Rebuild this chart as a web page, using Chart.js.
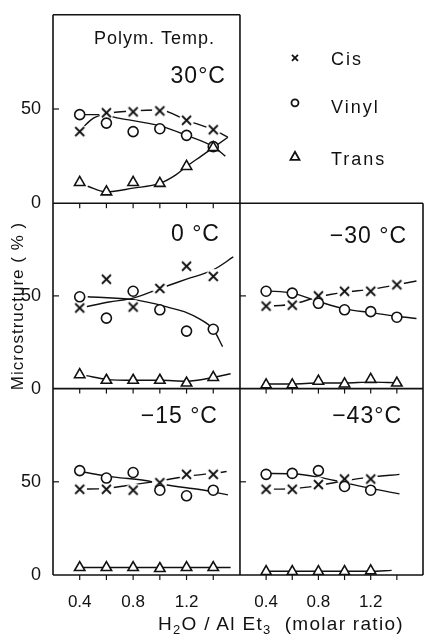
<!DOCTYPE html>
<html>
<head>
<meta charset="utf-8">
<script src="https://cdn.jsdelivr.net/npm/chart.js@4"></script>
<style>
  html, body { margin: 0; padding: 0; background: #fff; }
  #wrap { position: relative; width: 431px; height: 637px; }
  #xtitle { position: absolute; left: 158px; top: 613px; font: 19px "Liberation Sans", Arial, sans-serif; letter-spacing: 1.3px; color: #111; white-space: nowrap; }
  #xtitle sub { font-size: 13px; vertical-align: -4px; line-height: 0; }
</style>
</head>
<body>
<div id="wrap">
  <canvas id="grafica" width="431" height="637"></canvas>
  <div id="xtitle">H<sub>2</sub>O / Al Et<sub>3</sub>&nbsp;&nbsp;(molar ratio)</div>
</div>
<script>
// H2O / AlEt3 molar ratios
const ratios = [0.4, 0.6, 0.8, 1.0, 1.2, 1.4];
const ratios43 = [0.4, 0.6, 0.8, 1.0, 1.2];

// tick marks and labels
const xTicks = [0.4, 0.6, 0.8, 1.0, 1.2, 1.4];
const xTickLabels = ['0.4', '0.8', '1.2'];
const yTicks = [0, 50];

// 30 °C
const cis30 = [38, 48, 48.5, 49, 44, 39];
const vinyl30 = [47, 42.5, 38, 39.5, 36, 30];
const trans30 = [11, 6, 11, 10.5, 19.5, 29.5];
const cisFit30 = [[0.42, 40], [0.5, 45], [0.6, 47.5], [0.8, 49], [1.0, 49.5], [1.2, 44], [1.4, 39], [1.51, 35]];
const vinylFit30 = [[0.43, 47], [0.55, 47], [0.7, 45], [1.0, 41], [1.2, 36], [1.4, 30], [1.49, 25]];
const transFit30 = [[0.46, 9], [0.6, 6], [0.8, 8], [1.0, 10.5], [1.12, 15], [1.2, 19.5], [1.31, 25], [1.4, 29.5], [1.51, 35]];

// 0 °C
const cis0 = [43.5, 59, 44, 54, 66, 60.5];
const vinyl0 = [49.5, 38, 52.5, 42.5, 31, 32];
const trans0 = [7.5, 4.5, 4.5, 4.5, 3, 6];
const cisFit0 = [[0.44, 44], [0.62, 46.7], [0.8, 48.8], [1.0, 54], [1.2, 59], [1.4, 64], [1.55, 71]];
const vinylFit0 = [[0.46, 49.5], [0.8, 48], [0.95, 46], [1.07, 43.7], [1.2, 41], [1.3, 37.5], [1.4, 32], [1.47, 22.6]];
const transFit0 = [[0.45, 7], [0.6, 5], [0.8, 4.5], [1.0, 4.5], [1.2, 4], [1.4, 6], [1.53, 8]];

// -30 °C
const cisM30 = [44.5, 45, 50, 52.5, 52.5, 56];
const vinylM30 = [52.5, 51.5, 46, 42.5, 41.5, 38.5];
const transM30 = [2, 2, 4, 2.5, 5, 3];
const cisFitM30 = [[0.4, 44.5], [0.6, 45.5], [0.8, 49.5], [1.0, 52], [1.2, 53.5], [1.4, 56], [1.55, 58]];
const vinylFitM30 = [[0.4, 52.7], [0.6, 51.5], [0.8, 47], [1.0, 43], [1.2, 41], [1.4, 39], [1.55, 37.8]];
const transFitM30 = [[0.4, 2.5], [0.6, 2.5], [0.8, 3], [1.0, 3], [1.2, 3.5], [1.4, 3.2]];

// -15 °C
const cisM15 = [46, 46, 45.5, 49.5, 54, 54];
const vinylM15 = [56, 52, 55, 45.5, 42.5, 45.5];
const transM15 = [4, 4, 4, 3.5, 4, 4];
const cisFitM15 = [[0.4, 46], [0.6, 46.5], [0.8, 48.5], [1.0, 50.5], [1.2, 53], [1.4, 54.5], [1.5, 55.5]];
const vinylFitM15 = [[0.4, 55.5], [0.66, 52.5], [0.89, 50.7], [1.04, 48.4], [1.31, 45.7], [1.51, 43]];
const transFitM15 = [[0.4, 4], [0.8, 4], [1.2, 4], [1.53, 4]];

// -43 °C
const cisM43 = [46, 46, 48.5, 51.5, 51.5];
const vinylM43 = [54, 54.5, 56, 47.5, 45.5];
const transM43 = [1.8, 1.8, 1.8, 1.8, 2.2];
const cisFitM43 = [[0.4, 46], [0.6, 46.3], [0.8, 48], [1.0, 50.5], [1.2, 52.5], [1.42, 54]];
const vinylFitM43 = [[0.4, 54.5], [0.6, 54.3], [0.8, 52.5], [1.0, 49.5], [1.2, 46.5], [1.42, 43.5]];
const transFitM43 = [[0.4, 2], [0.8, 2], [1.2, 2], [1.36, 2.5]];

const panels = [
  { label: '30°C',   x: 'xL', y: 'yTop', xs: ratios,   cis: cis30,  vinyl: vinyl30,  trans: trans30,  fits: [cisFit30, vinylFit30, transFit30] },
  { label: '0 °C',   x: 'xL', y: 'yMid', xs: ratios,   cis: cis0,   vinyl: vinyl0,   trans: trans0,   fits: [cisFit0, vinylFit0, transFit0] },
  { label: '−30 °C', x: 'xR', y: 'yMid', xs: ratios,   cis: cisM30, vinyl: vinylM30, trans: transM30, fits: [cisFitM30, vinylFitM30, transFitM30] },
  { label: '−15 °C', x: 'xL', y: 'yBot', xs: ratios,   cis: cisM15, vinyl: vinylM15, trans: transM15, fits: [cisFitM15, vinylFitM15, transFitM15] },
  { label: '−43°C',  x: 'xR', y: 'yBot', xs: ratios43, cis: cisM43, vinyl: vinylM43, trans: transM43, fits: [cisFitM43, vinylFitM43, transFitM43] }
];
// right edge offset / top offset of the temperature labels
const labelPos = [[14, 62], [20, 31], [16, 33], [22, 28], [21, 28]];

const tinta = '#111';
const fuente = '"Liberation Sans", Arial, sans-serif';

// x marker with a white halo so the curve breaks around it
function cruz(size, arm, halo) {
  const c = document.createElement('canvas');
  c.width = c.height = size;
  const g = c.getContext('2d');
  const m = size / 2;
  if (halo) {
    g.fillStyle = '#fff';
    g.beginPath(); g.arc(m, m, m, 0, Math.PI * 2); g.fill();
  }
  g.strokeStyle = tinta;
  g.lineWidth = 1.8;
  g.beginPath();
  g.moveTo(m - arm, m - arm); g.lineTo(m + arm, m + arm);
  g.moveTo(m + arm, m - arm); g.lineTo(m - arm, m + arm);
  g.stroke();
  return c;
}
const cruzImg = cruz(15, 4.5, true);

const pts = (xs, ys) => xs.map((x, i) => ({ x: x, y: ys[i] }));
const pares = arr => arr.map(p => ({ x: p[0], y: p[1] }));

const marcas = [];
const curvas = [];
panels.forEach(p => {
  const base = { xAxisID: p.x, yAxisID: p.y };
  marcas.push(Object.assign({ data: pts(p.xs, p.trans), pointStyle: 'triangle', pointRadius: 6, backgroundColor: '#fff', borderColor: tinta, borderWidth: 1.6 }, base));
  marcas.push(Object.assign({ data: pts(p.xs, p.vinyl), pointStyle: 'circle', pointRadius: 5, backgroundColor: '#fff', borderColor: tinta, borderWidth: 1.6 }, base));
  marcas.push(Object.assign({ data: pts(p.xs, p.cis), pointStyle: cruzImg, pointRadius: 7 }, base));
  p.fits.forEach(f => {
    curvas.push(Object.assign({ data: pares(f), showLine: true, pointRadius: 0, borderColor: tinta, borderWidth: 1.4, cubicInterpolationMode: 'monotone', fill: false }, base));
  });
});

function ejeX(weight) {
  return {
    type: 'linear', position: 'bottom', stack: 'cols', stackWeight: weight,
    min: 0.2, max: 1.6,
    afterBuildTicks: s => { s.ticks = xTicks.map(v => ({ value: v })); },
    afterFit: s => { s.height = 62; },
    grid: { display: false }, border: { display: false },
    ticks: {
      autoSkip: false, maxRotation: 0, padding: 9, color: tinta,
      font: { family: fuente, size: 17 },
      callback: v => xTickLabels.includes(v.toFixed(1)) ? v.toFixed(1) : ''
    }
  };
}
function ejeY(weight, order) {
  return {
    type: 'linear', position: 'left', stack: 'rows', stackWeight: weight, weight: order,
    min: 0, max: 100,
    afterBuildTicks: s => { s.ticks = yTicks.map(v => ({ value: v })); },
    afterFit: s => { s.width = 53; },
    grid: { display: false }, border: { display: false },
    ticks: { padding: 4, color: tinta, font: { family: fuente, size: 18 } }
  };
}

// panel frames and inward ticks
const marco = {
  id: 'marco',
  afterDatasetsDraw(chart) {
    const { ctx, scales } = chart;
    const xL = scales.xL, xR = scales.xR, yT = scales.yTop, yM = scales.yMid, yB = scales.yBot;
    const izq = xL.left, medio = xL.right, der = xR.right;
    ctx.save();
    ctx.strokeStyle = tinta;
    ctx.lineWidth = 1.6;
    const linea = (x1, y1, x2, y2) => { ctx.beginPath(); ctx.moveTo(x1, y1); ctx.lineTo(x2, y2); ctx.stroke(); };
    linea(izq, yT.top, izq, yB.bottom);
    linea(izq, yT.top, medio, yT.top);
    linea(medio, yT.top, medio, yB.bottom);
    linea(izq, yT.bottom, der, yT.bottom);
    linea(izq, yM.bottom, der, yM.bottom);
    linea(izq, yB.bottom, der, yB.bottom);
    linea(der, yM.top, der, yB.bottom);
    ctx.lineWidth = 1.2;
    const filas = [[yT, [xL]], [yM, [xL, xR]], [yB, [xL, xR]]];
    filas.forEach(([ys, cols]) => {
      cols.forEach(xs => {
        xTicks.forEach(v => {
          const px = xs.getPixelForValue(v);
          linea(px, ys.bottom, px, ys.bottom + 5);
        });
        const py = ys.getPixelForValue(50);
        linea(xs.left, py, xs.left + 6, py);
      });
    });
    ctx.restore();
  }
};

// panel labels, legend, y title
const textos = {
  id: 'textos',
  afterDraw(chart) {
    const { ctx, scales } = chart;
    ctx.save();
    ctx.fillStyle = tinta;
    ctx.textBaseline = 'middle';

    ctx.font = '18px ' + fuente;
    ctx.letterSpacing = '1px';
    ctx.textAlign = 'left';
    ctx.fillText('Polym. Temp.', scales.xL.left + 41, scales.yTop.top + 24);

    ctx.font = '23px ' + fuente;
    ctx.letterSpacing = '1px';
    ctx.textAlign = 'right';
    panels.forEach((p, i) => {
      ctx.fillText(p.label, scales[p.x].right - labelPos[i][0], scales[p.y].top + labelPos[i][1]);
    });

    // legend
    const lx = scales.xR.left + 55, tx = scales.xR.left + 91, top = scales.yTop.top;
    ctx.font = '18px ' + fuente;
    ctx.letterSpacing = '2px';
    ctx.textAlign = 'left';
    ctx.fillText('Cis', tx, top + 45);
    ctx.fillText('Vinyl', tx, top + 93);
    ctx.fillText('Trans', tx, top + 145);
    ctx.strokeStyle = tinta;
    ctx.lineWidth = 1.8;
    ctx.beginPath();
    ctx.moveTo(lx - 3, top + 40); ctx.lineTo(lx + 3, top + 46);
    ctx.moveTo(lx + 3, top + 40); ctx.lineTo(lx - 3, top + 46);
    ctx.stroke();
    ctx.beginPath(); ctx.arc(lx, top + 88, 3.5, 0, Math.PI * 2); ctx.stroke();
    ctx.beginPath();
    ctx.moveTo(lx, top + 137); ctx.lineTo(lx + 4.5, top + 145); ctx.lineTo(lx - 4.5, top + 145); ctx.closePath();
    ctx.stroke();

    // y axis title
    ctx.font = '17px ' + fuente;
    ctx.letterSpacing = '1px';
    ctx.textAlign = 'center';
    ctx.translate(18, 306);
    ctx.rotate(-Math.PI / 2);
    ctx.fillText('Microstructure ( % )', 0, 0);
    ctx.restore();
  }
};

new Chart(document.getElementById('grafica'), {
  type: 'scatter',
  data: { datasets: marcas.concat(curvas) },
  options: {
    responsive: false,
    animation: false,
    devicePixelRatio: 1,
    layout: { padding: { top: 10, right: 2, left: 0, bottom: 0 } },
    plugins: { legend: { display: false }, tooltip: { enabled: false } },
    scales: {
      xL: ejeX(190),
      xR: ejeX(186),
      yTop: ejeY(190, 3),
      yMid: ejeY(187, 2),
      yBot: ejeY(188, 1)
    }
  },
  plugins: [marco, textos]
});
</script>
</body>
</html>
